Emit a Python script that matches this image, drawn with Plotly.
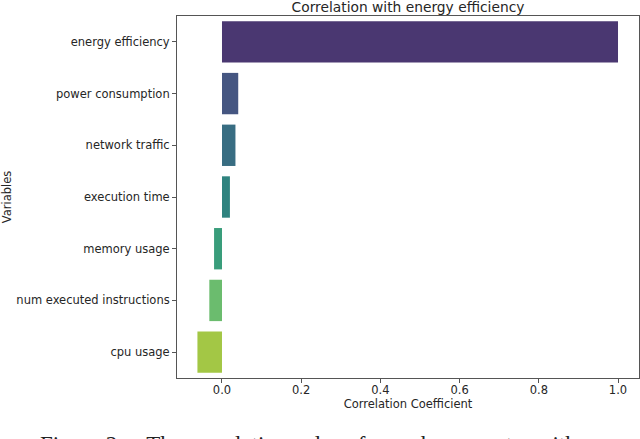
import colorsys
import plotly.graph_objects as go

# correlation with energy efficiency, top to bottom
variables = ["energy efficiency", "power consumption", "network traffic",
             "execution time", "memory usage", "num executed instructions",
             "cpu usage"]
correlations = [1.0, 0.041, 0.034, 0.02, -0.02, -0.032, -0.062]

x_ticks = [0.0, 0.2, 0.4, 0.6, 0.8, 1.0]

# viridis, 7 steps, desaturated like seaborn's barplot
viridis7 = ["#472D7B", "#3B528B", "#2C728E", "#21918C", "#28AE80", "#5EC962", "#ADDC30"]


def desaturate(hex_color, prop=0.75):
    r, g, b = (int(hex_color[i:i + 2], 16) / 255 for i in (1, 3, 5))
    h, l, s = colorsys.rgb_to_hls(r, g, b)
    r, g, b = colorsys.hls_to_rgb(h, l, s * prop)
    return "#%02x%02x%02x" % (round(r * 255), round(g * 255), round(b * 255))


bar_colors = [desaturate(c) for c in viridis7]

fig = go.Figure()
fig.add_trace(go.Bar(
    x=correlations,
    y=variables,
    orientation="h",
    width=0.8,
    marker=dict(color=bar_colors, line=dict(width=0)),
))

axis_font = dict(family="DejaVu Sans", size=11.5, color="#262626")

fig.update_layout(
    width=640,
    height=439,
    margin=dict(l=177, r=1, t=16, b=61),
    paper_bgcolor="white",
    plot_bgcolor="white",
    showlegend=False,
    title=dict(text="Correlation with energy efficiency",
               font=dict(family="DejaVu Sans", size=13.8, color="#262626"),
               x=0.6375, xanchor="center", y=0.984, yanchor="middle"),
    xaxis=dict(
        range=[-0.1136, 1.053],
        tickvals=x_ticks,
        ticktext=["%.1f" % v for v in x_ticks],
        ticks="outside", ticklen=4, tickcolor="#555555",
        ticklabelstandoff=-3,
        showline=True, linecolor="#555555", linewidth=1, mirror=True,
        showgrid=False, zeroline=False, automargin=False,
        tickfont=axis_font,
        title=dict(text="Correlation Coefficient", font=axis_font, standoff=3),
    ),
    yaxis=dict(
        type="category",
        categoryorder="array",
        categoryarray=variables,
        range=[6.5, -0.5],
        ticks="outside", ticklen=4, tickcolor="#555555",
        showline=True, linecolor="#555555", linewidth=1, mirror=True,
        showgrid=False, zeroline=False, automargin=False,
        tickfont=axis_font,
        title=dict(text="Variables", font=axis_font, standoff=2),
    ),
)

# caption of the paper, cut off by the bottom edge
fig.add_annotation(
    text="Figure 2:    The correlation values for each parameter with",
    xref="paper", yref="paper", x=-0.301, y=-0.1445,
    xanchor="left", yanchor="top", showarrow=False,
    font=dict(family="Liberation Serif", size=23, color="#222222"),
)

# drop the page's default body margin so the figure sits at the corner
fig.write_html("out.html",
               config={"displayModeBar": False},
               post_script="document.body.style.margin='0';"
                           "document.body.style.overflow='hidden';")
